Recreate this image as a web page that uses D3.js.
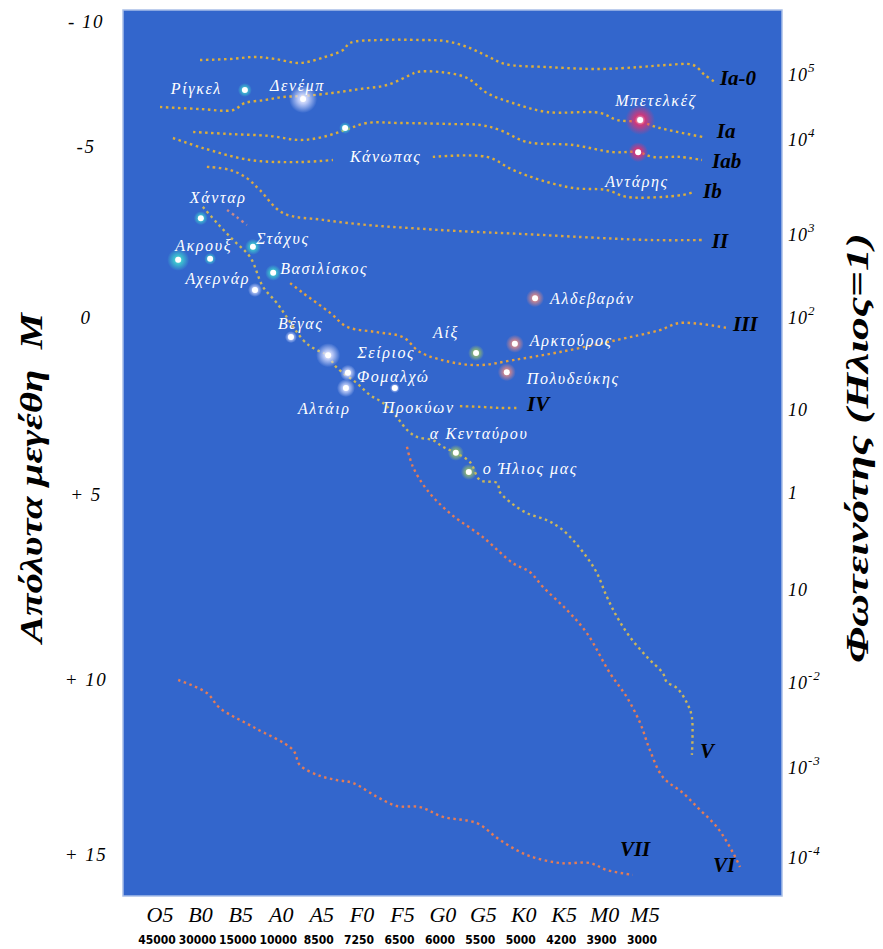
<!DOCTYPE html>
<html>
<head>
<meta charset="utf-8">
<script src="https://cdn.jsdelivr.net/npm/d3@7"></script>
<style>
  body { margin: 0; background: #fff; }
  text { font-family: "Liberation Serif", "DejaVu Serif", serif; }
</style>
</head>
<body>
<svg id="hr" width="883" height="949"></svg>
<script>
// spectral classes along the bottom, and surface temperatures under them
var classes = ["O5","B0","B5","A0","A5","F0","F5","G0","G5","K0","K5","M0","M5"];
var temps = ["45000","30000","15000","10000","8500","7250","6500","6000","5500","5000","4200","3900","3000"];

// absolute magnitude ticks (left) and luminosity ticks (right, log10 L/Lsun)
var magTicks = [-10, -5, 0, 5, 10, 15];
var magLabels = ["- 10", "-5", "0", "+ 5", "+ 10", "+ 15"];
var lumTicks = [5, 4, 3, 2, 1, 0, -1, -2, -3, -4];
var lumBase = ["10","10","10","10","10","1","10","10","10","10"];
var lumExp = ["5","4","3","2","","","","-2","-3","-4"];

// luminosity class curves: [spectral index (O5 = 0 ... M5 = 12), absolute magnitude]
var ia0 = [[0.99,-8.48],[1.73,-8.52],[2.35,-8.6],[2.85,-8.52],[3.46,-8.36],[4.08,-8.6],[4.53,-8.88],[4.7,-9.16],
  [5.44,-9.28],[6.43,-9.28],[7.05,-9.24],[7.6,-9.0],[8.09,-8.64],[8.54,-8.32],[9.57,-8.2],[10.89,-8.12],
  [11.88,-8.2],[12.54,-8.28],[13.19,-8.28],[13.48,-7.88],[13.73,-7.6]];
var ia = [[0,-6.6],[0.99,-6.52],[1.81,-6.48],[2.1,-6.76],[2.6,-6.88],[3.04,-7.0],[3.54,-7.04],[4.26,-7.16],
  [4.95,-7.32],[5.62,-7.48],[6.19,-7.88],[6.36,-8.0],[6.93,-8.0],[7.6,-7.76],[8.09,-7.16],[8.73,-6.76],
  [9.57,-6.4],[10.89,-6.36],[11.31,-6.08],[11.88,-6.0],[12.37,-5.76],[13.43,-5.4]];
var iab = [[0.82,-5.6],[1.73,-5.52],[2.72,-5.44],[3.46,-5.28],[4.03,-5.4],[4.58,-5.68],[5.12,-5.96],[5.94,-5.96],
  [7.17,-5.92],[7.92,-5.88],[8.41,-5.68],[9.08,-5.2],[10.22,-5.08],[11.21,-4.85],[11.83,-4.85],[12.2,-4.71],
  [12.86,-4.71],[13.41,-4.62]];
var ib = [[0.32,-5.36],[1.06,-4.97],[2.23,-4.62],[3.46,-4.56],[4.28,-4.62],null,[6.75,-4.71],[8.09,-4.71],
  [8.73,-4.33],[9.4,-4.04],[10.22,-3.8],[11.06,-3.74],[11.55,-3.54],[12.94,-3.6],[13.19,-3.68]];
var ii = [[1.16,-4.42],[1.73,-4.33],[2.15,-4.09],[2.47,-3.74],[3.04,-3.07],[4.03,-2.87],[5.12,-2.72],[6.19,-2.63],
  [7.42,-2.54],[8.91,-2.46],[10.89,-2.34],[12.12,-2.28],[13.48,-2.28]];
var iii = [[3.22,-1.02],[3.54,-0.73],[4.21,-0.15],[4.63,0.25],[5.37,0.4],[6.01,0.54],[6.43,0.96],[7.17,1.24],
  [7.92,1.33],[8.73,1.19],[9.9,0.96],[11.31,0.62],[12.37,0.34],[12.86,0.14],[14.03,0.28]];
var iv = [[7.42,2.49],[7.92,2.51],[8.41,2.54],[8.86,2.54]];
var v = [[1.06,-3.25],[1.41,-2.78],[1.81,-2.28],[2.23,-1.78],[2.55,-0.91],[2.89,-0.44],[3.54,0.62],[3.79,0.85],
  [4.13,1.05],[4.38,1.41],[4.87,1.84],[5.2,2.18],[5.52,2.4],[5.86,2.8],[6.11,3.16],[6.36,3.36],[6.75,3.45],
  [7.0,3.64],[7.32,3.81],[7.67,4.07],[7.92,4.58],[8.34,4.66],[8.41,4.92],[8.66,5.19],[9.08,5.49],[9.57,5.68],
  [9.9,5.89],[10.22,6.22],[10.56,6.68],[10.81,7.11],[11.06,7.76],[11.31,8.3],[11.63,8.84],[12.05,9.38],
  [12.44,9.81],[12.54,10.06],[12.79,10.23],[13.04,10.66],[13.16,11.06],[13.16,12.14]];
var vi = [[6.11,3.64],[6.26,4.21],[6.61,4.86],[7.17,5.49],[7.99,6.14],[8.73,6.84],[9.15,7.08],[9.48,7.49],
  [10.07,8.11],[10.56,8.73],[11.13,9.81],[11.55,10.49],[11.88,11.23],[12.12,12.0],[12.44,12.77],[12.94,13.23],
  [13.36,13.71],[13.78,14.2],[14.18,14.94],[14.35,15.34]];
var vii = [[0.45,10.0],[1.16,10.37],[1.48,10.8],[2.3,11.34],[3.29,12.0],[3.46,12.43],[3.96,12.74],[4.38,12.86],
  [4.77,12.94],[5.37,13.34],[5.86,13.6],[6.43,13.63],[7.0,13.91],[7.84,14.09],[8.41,14.57],[9.08,15.0],
  [9.9,15.23],[10.64,15.23],[11.06,15.43],[11.7,15.57]];
var stub = [[1.66,-3.16],[1.9,-2.95],[2.15,-2.72]];

var curveNames = ["Ia-0","Ia","Iab","Ib","II","III","IV","V","VI","VII",""];
var curveData = [ia0, ia, iab, ib, ii, iii, iv, v, vi, vii, stub];

// named stars
var starNames = ["Ρίγκελ","Δενέμπ","Κάνωπας","Μπετελκέζ","Αντάρης","Χάνταρ","Ακρουξ","","Στάχυς","Αχερνάρ",
  "Βασιλίσκος","Αλδεβαράν","Βέγας","Σείριος","Φομαλχώ","Αλτάιρ","Προκύων","Αίξ","Αρκτούρος","Πολυδεύκης",
  "α Κενταύρου","ο Ήλιος μας"];
var starSpec = [2.1,3.54,4.58,11.88,11.83,1.01,0.45,1.24,2.3,2.35,2.8,9.28,3.24,4.16,4.65,4.6,5.81,7.82,8.78,8.58,7.32,7.64];
var starMag = [-7.28,-6.92,-5.76,-6.08,-4.85,-2.92,-1.7,-1.73,-2.08,-0.82,-1.32,-0.58,0.54,1.05,1.55,1.98,1.98,0.99,0.73,1.53,3.81,4.35];
var starTint = ["cyan","white","cyan","red","red","cyan","cyan","cyan","cyan","white","cyan","pink","white","white",
  "white","white","white","green","pink","pink","green","green"];

// layout of the drawing (not data)
var glowR = [7,14,6,15,10,7,11,6,8,7,8,9,6,12,8,9,5,8,9,9,8,8];
var lblDx = [-23,-33,5,-25,-33,-11,-3,0,3,-5,7,15,-13,29,9,-48,-12,-43,15,20,-26,14];
var lblDy = [3,-9,33,-15,34,-16,-10,0,-4,-7,0,5,-9,2,8,25,24,-16,1,11,-15,1];
var lblAnchor = ["end","start","start","start","start","start","start","start","start","end","start","start",
  "start","start","start","start","start","start","start","start","start","start"];
var classDx = [5,14,10,10,7,6,9,8,-27,-13];
var classDy = [3,1,8,6,8,3,3,3,5,-19];
var curveColor = ["#dcae3a","#dcae3a","#dcae3a","#dcae3a","#d9a846","#e4a23e","#dcae3a","#cbb65a","#e47c56","#e47c56","#c98a8a"];
var tintColor = { cyan: "#3fd3d0", white: "#d4dcff", red: "#e8306e", pink: "#e48a86", green: "#9cc466" };

var svg = d3.select("#hr");
var plot = { left: 123, top: 10, right: 782, bottom: 896 };

var x = d3.scaleLinear().domain([0, 12]).range([160, 645]);
var y = d3.scaleLinear().domain(magTicks).range([22, 147, 318, 495, 680, 855]);
var yL = d3.scaleLinear().domain(lumTicks).range([75, 140, 235, 318, 410, 493, 590, 683, 768, 858]);

// gradients for the star glows
var defs = svg.append("defs");
Object.keys(tintColor).forEach(function (k) {
  var g = defs.append("radialGradient").attr("id", "glow-" + k);
  g.append("stop").attr("offset", "0%").attr("stop-color", "#fff").attr("stop-opacity", 1);
  g.append("stop").attr("offset", "35%").attr("stop-color", tintColor[k]).attr("stop-opacity", 0.85);
  g.append("stop").attr("offset", "100%").attr("stop-color", tintColor[k]).attr("stop-opacity", 0);
});

svg.append("rect")
  .attr("x", plot.left).attr("y", plot.top)
  .attr("width", plot.right - plot.left).attr("height", plot.bottom - plot.top)
  .attr("fill", "#3366cc").attr("stroke", "#a9bfe8").attr("stroke-width", 1.5);

// dotted class curves
var line = d3.line()
  .defined(function (d) { return d != null; })
  .x(function (d) { return x(d[0]); })
  .y(function (d) { return y(d[1]); })
  .curve(d3.curveCatmullRom);

svg.selectAll("path.cls").data(curveData).enter().append("path")
  .attr("class", "cls")
  .attr("d", line)
  .attr("fill", "none")
  .attr("stroke", function (d, i) { return curveColor[i]; })
  .attr("stroke-width", 2.4)
  .attr("stroke-dasharray", "2.5,3.5");

// class names at the end of each curve
svg.selectAll("text.cname").data(curveNames.slice(0, 10)).enter().append("text")
  .attr("class", "cname")
  .attr("x", function (d, i) { var p = curveData[i][curveData[i].length - 1]; return x(p[0]) + classDx[i]; })
  .attr("y", function (d, i) { var p = curveData[i][curveData[i].length - 1]; return y(p[1]) + classDy[i]; })
  .attr("font-size", 21).attr("font-weight", "bold").attr("font-style", "italic")
  .attr("fill", "#000")
  .text(function (d) { return d; });

// stars
var stars = svg.selectAll("g.star").data(starNames).enter().append("g")
  .attr("class", "star")
  .attr("transform", function (d, i) { return "translate(" + x(starSpec[i]) + "," + y(starMag[i]) + ")"; });

stars.append("circle")
  .attr("r", function (d, i) { return glowR[i]; })
  .attr("fill", function (d, i) { return "url(#glow-" + starTint[i] + ")"; });
stars.append("circle").attr("r", 3).attr("fill", "#fff");

stars.append("text")
  .attr("x", function (d, i) { return lblDx[i]; })
  .attr("y", function (d, i) { return lblDy[i] + 1; })
  .attr("text-anchor", function (d, i) { return lblAnchor[i]; })
  .attr("font-size", 16).attr("font-style", "italic").attr("letter-spacing", 1.6)
  .attr("fill", "#fff")
  .text(function (d) { return d; });

// left magnitude ticks
svg.selectAll("text.mag").data(magTicks).enter().append("text")
  .attr("class", "mag")
  .attr("x", 86).attr("y", function (d) { return y(d) + 6; })
  .attr("text-anchor", "middle")
  .attr("font-size", 19).attr("font-style", "italic").attr("letter-spacing", 1.5)
  .text(function (d, i) { return magLabels[i]; });

// right luminosity ticks
var lt = svg.selectAll("text.lum").data(lumTicks).enter().append("text")
  .attr("class", "lum")
  .attr("x", 788).attr("y", function (d) { return yL(d) + 6; })
  .attr("font-size", 18).attr("font-style", "italic").attr("letter-spacing", 1);
lt.append("tspan").text(function (d, i) { return lumBase[i]; });
lt.append("tspan")
  .attr("dy", -9).attr("font-size", 13)
  .text(function (d, i) { return lumExp[i]; });

// bottom spectral classes and temperatures
svg.selectAll("text.sp").data(classes).enter().append("text")
  .attr("class", "sp")
  .attr("x", function (d, i) { return x(i); }).attr("y", 922)
  .attr("text-anchor", "middle")
  .attr("font-size", 22).attr("font-style", "italic")
  .text(function (d) { return d; });

svg.selectAll("text.tp").data(temps).enter().append("text")
  .attr("class", "tp")
  .attr("x", function (d, i) { return x(i) - 3; }).attr("y", 944)
  .attr("text-anchor", "middle")
  .style("font-family", "'Liberation Sans Narrow','DejaVu Sans Condensed',sans-serif")
  .attr("font-size", 12).attr("font-weight", "bold")
  .text(function (d) { return d; });

// axis titles (tall, narrow lettering as in the original)
svg.append("text")
  .attr("transform", "translate(42,478) rotate(-90)")
  .attr("text-anchor", "middle")
  .attr("font-size", 31).attr("font-weight", "bold").attr("font-style", "italic")
  .attr("textLength", 330).attr("lengthAdjust", "spacingAndGlyphs")
  .attr("xml:space", "preserve")
  .text("Απόλυτα μεγέθη  M");

svg.append("text")
  .attr("transform", "translate(868,448) rotate(-90)")
  .attr("text-anchor", "middle")
  .attr("font-size", 31).attr("font-weight", "bold").attr("font-style", "italic")
  .attr("textLength", 430).attr("lengthAdjust", "spacingAndGlyphs")
  .text("Φωτεινότης (Ηλιος=1)");
</script>
</body>
</html>
